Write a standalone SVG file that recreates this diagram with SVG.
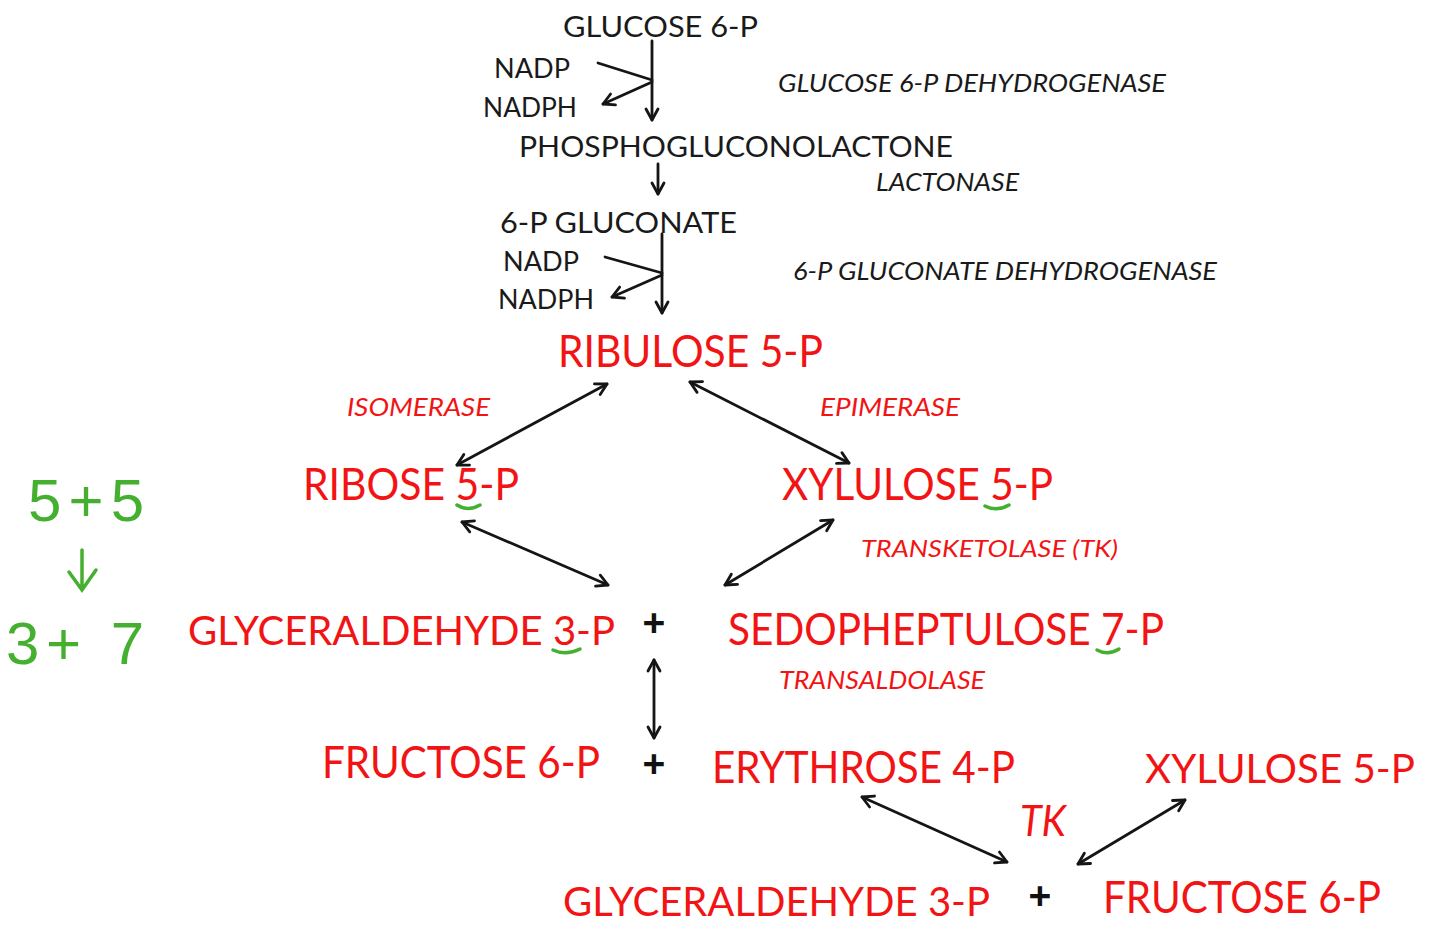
<svg xmlns="http://www.w3.org/2000/svg" width="1440" height="933" viewBox="0 0 1440 933">
<defs>
<style>
.t{font-family:Lato,"Open Sans","Liberation Sans",sans-serif}
.k{fill:#1a1a1a}
.r{fill:#f21414}
.i{font-style:italic}
.p{font-family:"Liberation Sans",sans-serif;font-weight:bold;fill:#111}
.ln{stroke:#151515;stroke-width:2.8;fill:none;stroke-linecap:round}
.g{stroke:#45b030;stroke-width:3.5;fill:none;stroke-linecap:round}
.gt{font-family:"Liberation Sans",sans-serif;fill:#45b030}
</style>
<marker id="ah" markerUnits="userSpaceOnUse" markerWidth="16" markerHeight="16" viewBox="0 0 16 16" refX="14" refY="8" orient="auto-start-reverse">
<path d="M3,2 L14,8 L3,14" fill="none" stroke="#151515" stroke-width="2.8" stroke-linecap="round" stroke-linejoin="round"/>
</marker>
</defs>
<rect width="1440" height="933" fill="#ffffff"/>

<g id="glucose6p"><text class="t k" x="563" y="37" font-size="29" textLength="195" lengthAdjust="spacingAndGlyphs">GLUCOSE 6-P</text></g>
<g id="nadp1"><text class="t k" x="494" y="78" font-size="26" textLength="76" lengthAdjust="spacingAndGlyphs">NADP</text></g>
<g id="nadph1"><text class="t k" x="483" y="117" font-size="26" textLength="94" lengthAdjust="spacingAndGlyphs">NADPH</text></g>
<g id="enz-g6pd"><text class="t k i" x="778" y="92" font-size="26" textLength="388" lengthAdjust="spacingAndGlyphs">GLUCOSE 6-P DEHYDROGENASE</text></g>
<g id="phosphogluconolactone"><text class="t k" x="519" y="157" font-size="29" textLength="434" lengthAdjust="spacingAndGlyphs">PHOSPHOGLUCONOLACTONE</text></g>
<g id="enz-lactonase"><text class="t k i" x="876" y="191" font-size="26" textLength="143" lengthAdjust="spacingAndGlyphs">LACTONASE</text></g>
<g id="gluconate6p"><text class="t k" x="500" y="233" font-size="29" textLength="237" lengthAdjust="spacingAndGlyphs">6-P GLUCONATE</text></g>
<g id="nadp2"><text class="t k" x="503" y="271" font-size="26" textLength="76" lengthAdjust="spacingAndGlyphs">NADP</text></g>
<g id="nadph2"><text class="t k" x="498" y="309" font-size="26" textLength="96" lengthAdjust="spacingAndGlyphs">NADPH</text></g>
<g id="enz-6pgd"><text class="t k i" x="793" y="280" font-size="26" textLength="424" lengthAdjust="spacingAndGlyphs">6-P GLUCONATE DEHYDROGENASE</text></g>

<g id="ribulose5p"><text class="t r" x="558" y="367" font-size="44" textLength="265" lengthAdjust="spacingAndGlyphs">RIBULOSE 5-P</text></g>
<g id="enz-isomerase"><text class="t r i" x="347" y="416" font-size="25" textLength="143" lengthAdjust="spacingAndGlyphs">ISOMERASE</text></g>
<g id="enz-epimerase"><text class="t r i" x="820" y="416" font-size="25" textLength="140" lengthAdjust="spacingAndGlyphs">EPIMERASE</text></g>
<g id="ribose5p"><text class="t r" x="303" y="500" font-size="44" textLength="216" lengthAdjust="spacingAndGlyphs">RIBOSE 5-P</text></g>
<g id="xylulose5p"><text class="t r" x="782" y="500" font-size="44" textLength="271" lengthAdjust="spacingAndGlyphs">XYLULOSE 5-P</text></g>
<g id="enz-tk"><text class="t r i" x="861" y="557" font-size="24" textLength="257" lengthAdjust="spacingAndGlyphs">TRANSKETOLASE (TK)</text></g>
<g id="g3p"><text class="t r" x="188" y="645" font-size="41" textLength="427" lengthAdjust="spacingAndGlyphs">GLYCERALDEHYDE 3-P</text></g>
<g id="plus1"><text class="p" x="654" y="636" font-size="39" text-anchor="middle">+</text></g>
<g id="sedoheptulose7p"><text class="t r" x="728" y="645" font-size="44" textLength="436" lengthAdjust="spacingAndGlyphs">SEDOPHEPTULOSE 7-P</text></g>
<g id="enz-transaldolase"><text class="t r i" x="779" y="689" font-size="25" textLength="206" lengthAdjust="spacingAndGlyphs">TRANSALDOLASE</text></g>
<g id="fructose6p"><text class="t r" x="322" y="778" font-size="44" textLength="278" lengthAdjust="spacingAndGlyphs">FRUCTOSE 6-P</text></g>
<g id="plus2"><text class="p" x="654" y="777" font-size="39" text-anchor="middle">+</text></g>
<g id="erythrose4p"><text class="t r" x="712" y="783" font-size="44" textLength="303" lengthAdjust="spacingAndGlyphs">ERYTHROSE 4-P</text></g>
<g id="xylulose5p-2"><text class="t r" x="1145" y="783" font-size="41" textLength="270" lengthAdjust="spacingAndGlyphs">XYLULOSE 5-P</text></g>
<g id="enz-tk2"><text class="t r i" x="1020" y="836" font-size="42" textLength="46" lengthAdjust="spacingAndGlyphs">TK</text></g>
<g id="g3p-2"><text class="t r" x="563" y="916" font-size="41" textLength="427" lengthAdjust="spacingAndGlyphs">GLYCERALDEHYDE 3-P</text></g>
<g id="plus3"><text class="p" x="1040" y="909" font-size="39" text-anchor="middle">+</text></g>
<g id="fructose6p-2"><text class="t r" x="1103" y="913" font-size="44" textLength="278" lengthAdjust="spacingAndGlyphs">FRUCTOSE 6-P</text></g>

<g id="connectors">
<line class="ln" x1="652" y1="41" x2="652" y2="120" marker-end="url(#ah)"/>
<line class="ln" x1="598" y1="63" x2="652" y2="80"/>
<line class="ln" x1="652" y1="82" x2="603" y2="104" marker-end="url(#ah)"/>
<line class="ln" x1="658" y1="164" x2="658" y2="194" marker-end="url(#ah)"/>
<line class="ln" x1="662" y1="234" x2="662" y2="313" marker-end="url(#ah)"/>
<line class="ln" x1="605" y1="257" x2="662" y2="273"/>
<line class="ln" x1="662" y1="275" x2="612" y2="297" marker-end="url(#ah)"/>
<line class="ln" x1="607" y1="384" x2="457" y2="465" marker-start="url(#ah)" marker-end="url(#ah)"/>
<line class="ln" x1="690" y1="382" x2="849" y2="463" marker-start="url(#ah)" marker-end="url(#ah)"/>
<line class="ln" x1="462" y1="522" x2="608" y2="585" marker-start="url(#ah)" marker-end="url(#ah)"/>
<line class="ln" x1="833" y1="520" x2="725" y2="585" marker-start="url(#ah)" marker-end="url(#ah)"/>
<line class="ln" x1="654" y1="660" x2="654" y2="738" marker-start="url(#ah)" marker-end="url(#ah)"/>
<line class="ln" x1="862" y1="797" x2="1007" y2="862" marker-start="url(#ah)" marker-end="url(#ah)"/>
<line class="ln" x1="1185" y1="800" x2="1078" y2="864" marker-start="url(#ah)" marker-end="url(#ah)"/>
</g>

<g id="green-notes">
<text class="gt" x="28" y="521" font-size="60" textLength="116" lengthAdjust="spacing">5+5</text>
<path class="g" d="M82,550 L82,590 M69,572 L82,590 L96,570"/>
<text class="gt" x="6" y="664" font-size="60" textLength="138" lengthAdjust="spacing">3+ 7</text>
<path class="g" d="M457,505 Q468,512 480,505"/>
<path class="g" d="M985,506 Q997,512 1009,505"/>
<path class="g" d="M553,650 Q566,656 580,649"/>
<path class="g" d="M1097,650 Q1108,656 1119,649"/>
</g>
</svg>
